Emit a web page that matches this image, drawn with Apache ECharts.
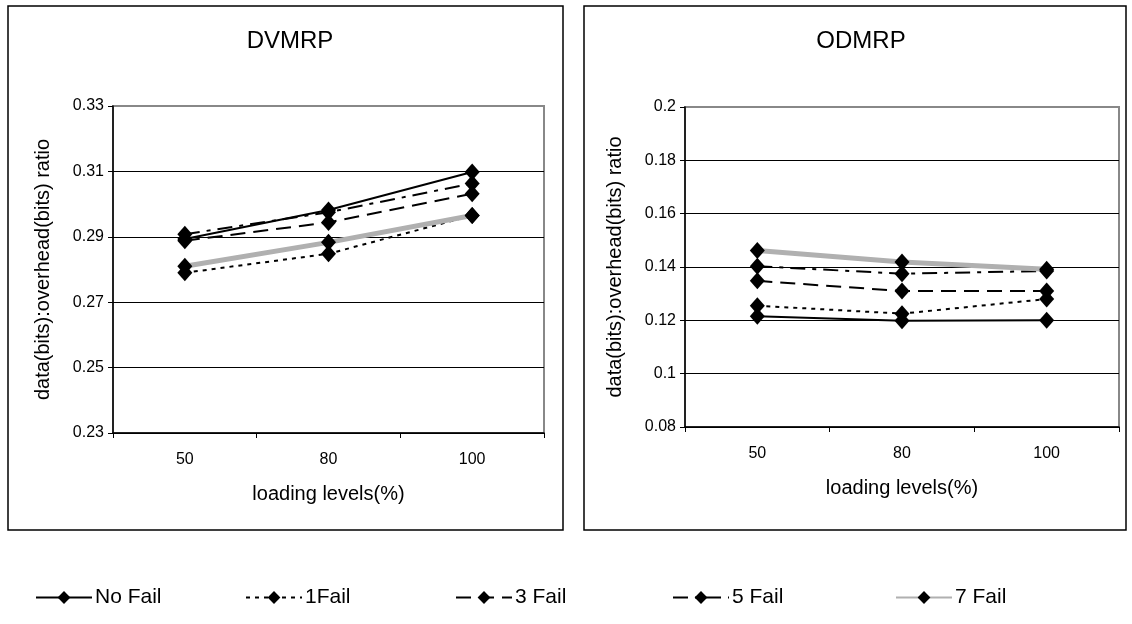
<!DOCTYPE html>
<html>
<head>
<meta charset="utf-8">
<script src="https://cdn.jsdelivr.net/npm/echarts@6/dist/echarts.min.js"></script>
<style>html,body{margin:0;padding:0;background:#fff;}#c{width:1132px;height:624px;}</style>
</head>
<body>
<div id="c"></div>
<script>
const categories = ['50', '80', '100'];
const seriesNames = ['No Fail', '1Fail', '3 Fail', '5 Fail', '7 Fail'];
const dvmrpTicks = ['0.23', '0.25', '0.27', '0.29', '0.31', '0.33'];

const dvmrpNoFail = [0.2893, 0.2982, 0.3098];
const dvmrp1Fail  = [0.2790, 0.2848, 0.2965];
const dvmrp3Fail  = [0.2888, 0.2944, 0.3032];
const dvmrp5Fail  = [0.2908, 0.2975, 0.3063];
const dvmrp7Fail  = [0.2810, 0.2883, 0.2965];

const odmrpNoFail = [0.1215, 0.1198, 0.1200];
const odmrp1Fail  = [0.1255, 0.1225, 0.1280];
const odmrp3Fail  = [0.1348, 0.1310, 0.1310];
const odmrp5Fail  = [0.1403, 0.1375, 0.1385];
const odmrp7Fail  = [0.1462, 0.1419, 0.1392];

const FONT = '"Liberation Sans", Arial, sans-serif';
const styles = [
  { color: '#000', width: 2, type: 'solid' },
  { color: '#000', width: 2, type: [4, 5] },
  { color: '#000', width: 2, type: [15, 8] },
  { color: '#000', width: 2, type: [15, 7, 4, 7] },
  { color: '#b0b0b0', width: 5, type: 'solid' }
];

function mk(name, data, idx, gi) {
  const s = styles[idx];
  return {
    name: name, type: 'line', data: data,
    xAxisIndex: gi, yAxisIndex: gi === 0 ? 0 : 2,
    symbol: 'diamond', symbolSize: [15, 17],
    itemStyle: { color: '#000' },
    lineStyle: { color: s.color, width: s.width, type: s.type },
    emphasis: { disabled: true },
    animation: false, z: 3
  };
}

const dv = [dvmrpNoFail, dvmrp1Fail, dvmrp3Fail, dvmrp5Fail, dvmrp7Fail];
const od = [odmrpNoFail, odmrp1Fail, odmrp3Fail, odmrp5Fail, odmrp7Fail];
const series = [];
seriesNames.forEach((n, i) => { series.push(mk(n, dv[i], i, 0)); });
seriesNames.forEach((n, i) => { series.push(mk(n, od[i], i, 1)); });

const xAx = (gi) => ({
  type: 'category', gridIndex: gi, data: categories, boundaryGap: true,
  axisLine: { lineStyle: { color: '#000', width: 1.5 } },
  axisTick: { show: true, length: 5, lineStyle: { color: '#000' } },
  axisLabel: { color: '#000', fontSize: 16, fontFamily: FONT, margin: 19 },
  name: 'loading levels(%)', nameLocation: 'middle', nameGap: 51,
  nameTextStyle: { color: '#000', fontSize: 20, fontFamily: FONT },
  splitLine: { show: false }
});

const yName = 'data(bits):overhead(bits) ratio';
const legendLefts = [35, 245, 455, 672, 895];

const option = {
  animation: false,
  backgroundColor: '#fff',
  title: [
    { text: 'DVMRP', left: 285, top: 24, textAlign: 'center',
      textStyle: { fontSize: 24, fontWeight: 'normal', color: '#000', fontFamily: FONT } },
    { text: 'ODMRP', left: 856, top: 24, textAlign: 'center',
      textStyle: { fontSize: 24, fontWeight: 'normal', color: '#000', fontFamily: FONT } }
  ],
  legend: seriesNames.map((n, i) => ({
    data: [n], bottom: 16, left: legendLefts[i], padding: 0,
    itemWidth: 56, itemHeight: 16,
    textStyle: { fontSize: 21, color: '#000', fontFamily: FONT, padding: [0, 0, 0, -2] },
    selectedMode: false
  })),
  graphic: [
    { type: 'rect', shape: { x: 8, y: 6, width: 555, height: 524 },
      style: { fill: 'none', stroke: '#000', lineWidth: 1.5 }, z: -1 },
    { type: 'rect', shape: { x: 584, y: 6, width: 542, height: 524 },
      style: { fill: 'none', stroke: '#000', lineWidth: 1.5 }, z: -1 }
  ],
  grid: [
    { left: 113, top: 106, width: 431, height: 327, show: true,
      borderColor: '#888', borderWidth: 2, backgroundColor: 'transparent' },
    { left: 685, top: 107, width: 434, height: 320, show: true,
      borderColor: '#888', borderWidth: 2, backgroundColor: 'transparent' }
  ],
  xAxis: [xAx(0), xAx(1)],
  yAxis: [
    { type: 'value', gridIndex: 0, min: 0.23, max: 0.33, show: false,
      splitLine: { show: false } },
    { type: 'category', gridIndex: 0, data: dvmrpTicks, boundaryGap: false, position: 'left',
      axisLine: { show: true, lineStyle: { color: '#000', width: 1.5 } },
      axisTick: { show: true, length: 5, alignWithLabel: true, lineStyle: { color: '#000' } },
      axisLabel: { color: '#000', fontSize: 16, fontFamily: FONT, margin: 9 },
      splitLine: { show: true, lineStyle: { color: ['#000', '#000', '#000', '#000', '#000', '#888'], width: 1 } },
      name: yName, nameLocation: 'middle', nameGap: 60,
      nameTextStyle: { color: '#000', fontSize: 20, fontFamily: FONT } },
    { type: 'value', gridIndex: 1, min: 0.08, max: 0.2, interval: 0.02,
      axisLine: { show: true, lineStyle: { color: '#000', width: 1.5 } },
      axisTick: { show: true, length: 5, lineStyle: { color: '#000' } },
      axisLabel: { color: '#000', fontSize: 16, fontFamily: FONT, margin: 9 },
      splitLine: { show: true, lineStyle: { color: ['#000', '#000', '#000', '#000', '#000', '#000', '#888'], width: 1 } },
      name: yName, nameLocation: 'middle', nameGap: 60,
      nameTextStyle: { color: '#000', fontSize: 20, fontFamily: FONT } }
  ],
  series: series
};

const chart = echarts.init(document.getElementById('c'), null, { renderer: 'canvas' });
chart.setOption(option);
</script>
</body>
</html>
